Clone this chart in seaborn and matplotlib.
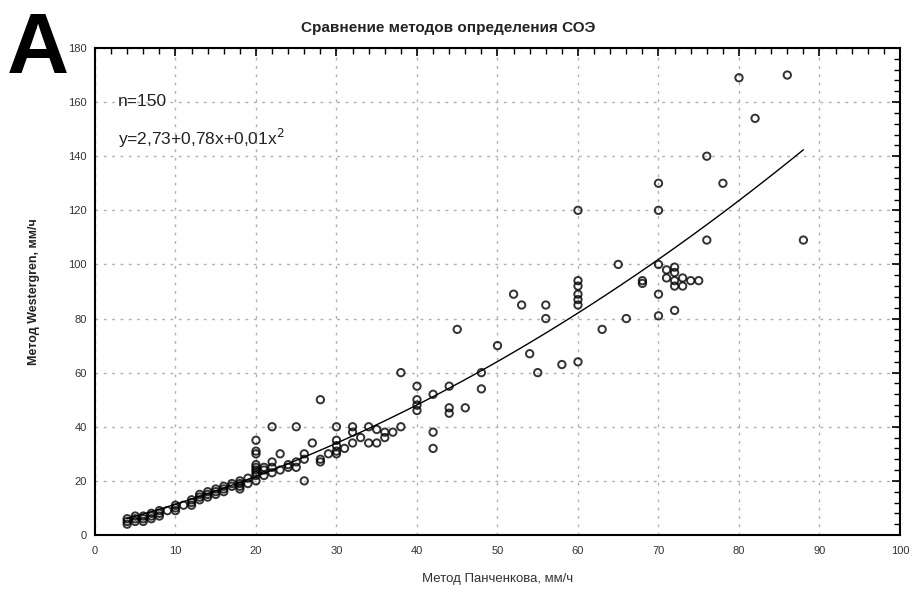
import matplotlib
matplotlib.use("Agg")
import matplotlib.pyplot as plt
import numpy as np
import pandas as pd
import seaborn as sns
from matplotlib.ticker import MultipleLocator

sns.set_style("white")
plt.rcParams["font.family"] = ["Liberation Sans", "DejaVu Sans"]

# Panchenkov method (x) vs Westergren method (y), mm/h
panchenkov = [
    4, 4, 4, 5, 5, 5, 6, 6, 6, 7, 7, 7, 8, 8, 8, 9, 10, 10, 10, 11,
    12, 12, 12, 13, 13, 13, 14, 14, 14, 15, 15, 15, 16, 16, 16, 17, 17, 18, 18, 18,
    18, 19, 19, 20, 20, 20, 20, 20, 20, 20, 20, 21, 21, 21, 22, 22, 22, 22, 23, 23,
    24, 24, 25, 25, 25, 26, 26, 26, 27, 28, 28, 28, 29, 30, 30, 30, 30, 30, 31, 32,
    32, 32, 33, 34, 34, 35, 35, 36, 36, 37, 38, 38, 40, 40, 40, 40, 42, 42, 42, 44,
    44, 44, 45, 46, 48, 48, 50, 52, 53, 54, 55, 56, 56, 58, 60, 60, 60, 60, 60, 60,
    60, 63, 65, 66, 68, 70, 70, 70, 70, 70, 71, 71, 72, 72, 72, 72, 73, 73, 74, 75,
    76, 76, 78, 80, 82, 86, 88, 68, 72, 20,
]
westergren = [
    4, 5, 6, 5, 6, 7, 6, 7, 5, 7, 8, 6, 8, 9, 7, 9, 10, 11, 9, 11,
    12, 13, 11, 13, 14, 15, 14, 15, 16, 15, 16, 17, 16, 17, 18, 18, 19, 18, 20, 19,
    17, 19, 21, 20, 22, 24, 25, 23, 30, 31, 35, 22, 24, 25, 25, 23, 27, 40, 24, 30,
    25, 26, 25, 27, 40, 20, 28, 30, 34, 28, 27, 50, 30, 30, 31, 33, 35, 40, 32, 34,
    38, 40, 36, 34, 40, 34, 39, 36, 38, 38, 40, 60, 46, 48, 50, 55, 32, 38, 52, 45,
    47, 55, 76, 47, 54, 60, 70, 89, 85, 67, 60, 80, 85, 63, 64, 85, 87, 89, 92, 94,
    120, 76, 100, 80, 94, 81, 89, 100, 120, 130, 95, 98, 83, 97, 99, 92, 92, 95, 94, 94,
    109, 140, 130, 169, 154, 170, 109, 93, 94, 26,
]

title = "Сравнение методов определения СОЭ"
x_label = "Метод Панченкова, мм/ч"
y_label = "Метод Westergren, мм/ч"
x_ticks = np.arange(0, 101, 10)
y_ticks = np.arange(0, 181, 20)

data = pd.DataFrame({"panchenkov": panchenkov, "westergren": westergren})

fig = plt.figure(figsize=(9.15, 5.97), dpi=100)
axes = fig.add_axes([0.1038, 0.1039, 0.8798, 0.8157])

sns.regplot(
    data=data,
    x="panchenkov",
    y="westergren",
    order=2,
    ci=None,
    ax=axes,
    scatter_kws=dict(s=28, facecolors="none", edgecolors="black", linewidths=1.4),
    line_kws=dict(color="black", linewidth=1.0),
)

axes.set_xlim(0, 100)
axes.set_ylim(0, 180)
axes.set_xticks(x_ticks)
axes.set_yticks(y_ticks)
axes.xaxis.set_minor_locator(MultipleLocator(2))
axes.yaxis.set_minor_locator(MultipleLocator(4))
axes.tick_params(which="both", direction="in", top=True, right=True,
                 color="black", labelsize=8, labelcolor="#333333")
axes.tick_params(which="major", length=6, width=1.2, pad=8)
axes.tick_params(axis="y", which="major", pad=6)
axes.tick_params(which="minor", length=4, width=1.0)
axes.grid(True, which="major", color="#b0b0b0", linestyle=(0, (2, 4)), linewidth=1.0)
for spine in axes.spines.values():
    spine.set_color("black")
    spine.set_linewidth(1.5)

axes.set_xlabel(x_label, fontsize=9.5, color="#333333", labelpad=12)
axes.set_ylabel(y_label, fontsize=9, fontweight="bold", color="#222222", labelpad=20)

axes.text(0.028, 0.88, "n=150", transform=axes.transAxes, fontsize=12.5, color="#222222")
axes.text(0.028, 0.8, "y=2,73+0,78x+0,01x$^2$", transform=axes.transAxes,
          fontsize=12.5, color="#222222")

fig.text(0.49, 0.953, title, ha="center", va="center", fontsize=11,
         fontweight="bold", color="#222222")
fig.text(0.041, 0.915, "A", ha="center", va="center", fontsize=62,
         fontweight="bold", color="black")

fig.savefig("out.png", dpi=100)
